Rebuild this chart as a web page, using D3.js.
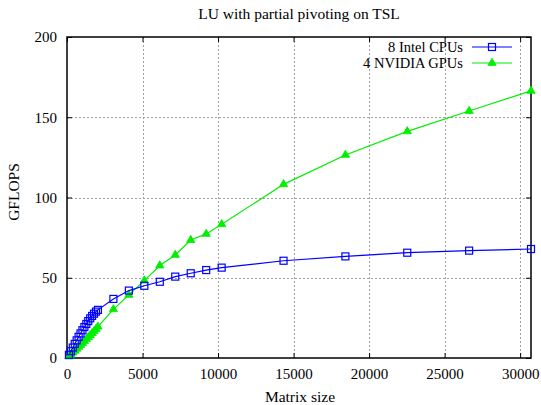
<!DOCTYPE html>
<html>
<head>
<meta charset="utf-8">
<script src="https://cdn.jsdelivr.net/npm/d3@7"></script>
<style>
  html, body { margin: 0; padding: 0; background: #fff; }
  svg { display: block; }
  svg text { font-family: "Liberation Serif", "Times New Roman", Times, serif !important; fill: #000; }
</style>
</head>
<body>
<svg id="chart" width="541" height="405"></svg>
<script>
// Matrix sizes measured
const sizes = [128, 256, 384, 512, 640, 768, 896, 1024, 1152, 1280, 1408, 1536, 1664, 1792, 1920, 2048,
               3072, 4096, 5120, 6144, 7168, 8192, 9216, 10240, 14336, 18432, 22528, 26624, 30720];
// GFLOPS, 8 Intel CPUs
const cpuGflops = [2.0, 4.2, 6.5, 8.8, 11.0, 13.2, 15.3, 17.3, 19.3, 21.2, 23.0, 24.7, 26.2, 27.6, 28.9, 30.0,
                   36.8, 42.0, 45.0, 47.5, 50.7, 52.8, 54.8, 56.3, 60.6, 63.3, 65.6, 66.9, 67.9];
// GFLOPS, 4 NVIDIA GPUs
const gpuGflops = [0.9, 2.1, 3.3, 4.5, 5.7, 6.9, 8.1, 9.3, 10.5, 11.7, 12.9, 14.1, 15.4, 16.7, 18.0, 19.5,
                   30.3, 39.3, 48.2, 57.6, 64.2, 73.5, 77.3, 83.3, 108.2, 126.5, 141.2, 153.9, 166.4];
const xTicks = [0, 5000, 10000, 15000, 20000, 25000, 30000];
const yTicks = [0, 50, 100, 150, 200];
const seriesNames = ["8 Intel CPUs", "4 NVIDIA GPUs"];

const svg = d3.select("#chart");
const mLeft = 67, mRight = 531, mTop = 37, mBottom = 358;

const x = d3.scaleLinear().domain([0, 30720]).range([mLeft, mRight]);
const y = d3.scaleLinear().domain([0, 200]).range([mBottom, mTop]);

// Grid
const grid = svg.append("g").attr("stroke", "#a0a0a0").attr("stroke-width", 1)
  .attr("stroke-dasharray", "2,2").attr("fill", "none");
xTicks.filter(d => d > 0).forEach(d => {
  grid.append("line").attr("x1", Math.round(x(d)) + 0.5).attr("x2", Math.round(x(d)) + 0.5)
    .attr("y1", mTop).attr("y2", mBottom);
});
yTicks.filter(d => d > 0 && d < 200).forEach(d => {
  grid.append("line").attr("y1", Math.round(y(d)) + 0.5).attr("y2", Math.round(y(d)) + 0.5)
    .attr("x1", mLeft).attr("x2", mRight);
});

// Axes with inward ticks, mirrored on top and right
const axB = d3.axisBottom(x).tickValues(xTicks).tickSizeInner(-5).tickSizeOuter(0).tickPadding(10).tickFormat(d3.format("d"));
const axT = d3.axisTop(x).tickValues(xTicks).tickSizeInner(-5).tickSizeOuter(0).tickFormat("");
const axL = d3.axisLeft(y).tickValues(yTicks).tickSizeInner(-5).tickSizeOuter(0).tickPadding(10);
const axR = d3.axisRight(y).tickValues(yTicks).tickSizeInner(-5).tickSizeOuter(0).tickFormat("");

function styleAxis(g) {
  g.attr("font-family", null).attr("font-size", null);
  g.select(".domain").remove();
  g.selectAll("line").attr("stroke", "#000").attr("stroke-width", 1);
  g.selectAll("text").style("font-size", "15px").attr("fill", "#000");
}
svg.append("g").attr("transform", `translate(0,${mBottom})`).call(axB).call(styleAxis);
svg.append("g").attr("transform", `translate(0,${mTop})`).call(axT).call(styleAxis);
svg.append("g").attr("transform", `translate(${mLeft},0)`).call(axL).call(styleAxis);
svg.append("g").attr("transform", `translate(${mRight},0)`).call(axR).call(styleAxis);

// Frame
svg.append("rect").attr("x", mLeft).attr("y", mTop).attr("width", mRight - mLeft).attr("height", mBottom - mTop)
  .attr("fill", "none").attr("stroke", "#000").attr("stroke-width", 1.5);

// Series
const line = d3.line().x(d => x(d[0])).y(d => y(d[1]));
const cpu = sizes.map((s, i) => [s, cpuGflops[i]]);
const gpu = sizes.map((s, i) => [s, gpuGflops[i]]);
const blue = "#0000ff", green = "#00ee00";

const tri = d3.symbol().type(d3.symbolTriangle).size(30);

svg.append("path").datum(gpu).attr("d", line).attr("fill", "none").attr("stroke", green).attr("stroke-width", 1.2);
svg.append("g").selectAll("path").data(gpu).join("path")
  .attr("d", tri).attr("transform", d => `translate(${x(d[0])},${y(d[1])})`)
  .attr("fill", green).attr("stroke", green).attr("stroke-width", 0.8);

svg.append("path").datum(cpu).attr("d", line).attr("fill", "none").attr("stroke", blue).attr("stroke-width", 1.2);
svg.append("g").selectAll("rect").data(cpu).join("rect")
  .attr("x", d => x(d[0]) - 3.5).attr("y", d => y(d[1]) - 3.5).attr("width", 7).attr("height", 7)
  .attr("fill", "none").attr("stroke", blue).attr("stroke-width", 1.2);

// Legend
const legY = [47, 63];
const legend = svg.append("g");
seriesNames.forEach((name, i) => {
  legend.append("text").attr("x", 463).attr("y", legY[i]).attr("dy", "0.35em")
    .attr("text-anchor", "end").style("font-size", "14.5px").text(name);
  legend.append("line").attr("x1", 472).attr("x2", 512).attr("y1", legY[i]).attr("y2", legY[i])
    .attr("stroke", i === 0 ? blue : green).attr("stroke-width", 1.2);
});
legend.append("rect").attr("x", 492 - 3.5).attr("y", legY[0] - 3.5).attr("width", 7).attr("height", 7)
  .attr("fill", "none").attr("stroke", blue).attr("stroke-width", 1.2);
legend.append("path").attr("d", tri).attr("transform", `translate(492,${legY[1]})`)
  .attr("fill", green).attr("stroke", green).attr("stroke-width", 0.8);

// Titles
svg.append("text").attr("x", 299).attr("y", 19).attr("text-anchor", "middle")
  .style("font-size", "15.5px").text("LU with partial pivoting on TSL");
svg.append("text").attr("x", 300).attr("y", 402).attr("text-anchor", "middle")
  .style("font-size", "15.5px").text("Matrix size");
svg.append("text").attr("transform", "translate(19,192) rotate(-90)")
  .attr("text-anchor", "middle").style("font-size", "15.5px").text("GFLOPS");
</script>
</body>
</html>
